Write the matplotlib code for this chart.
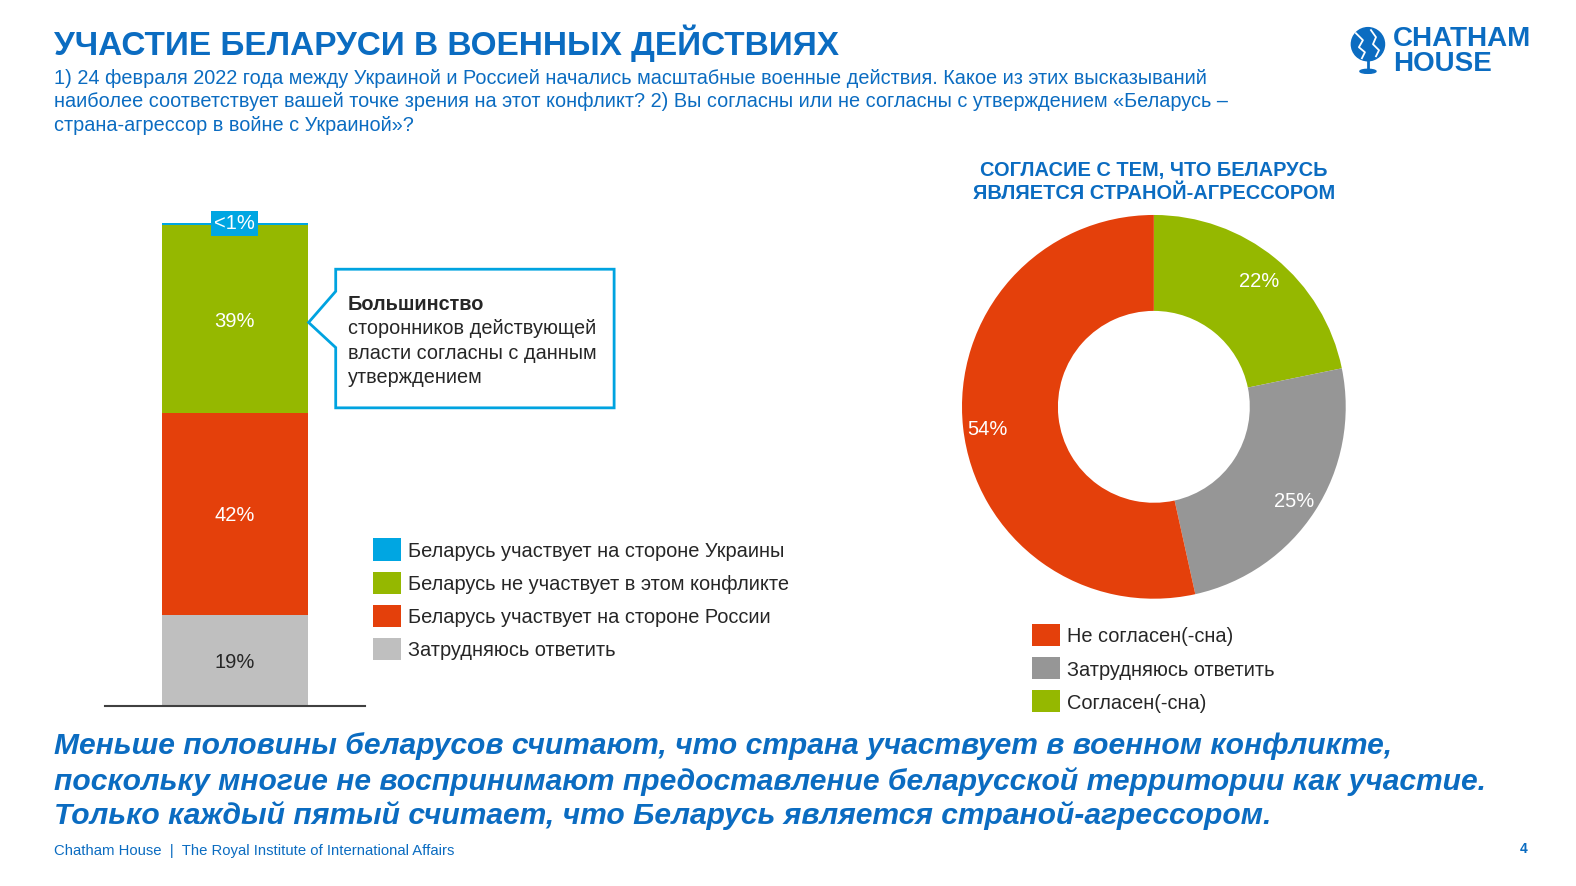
import matplotlib
matplotlib.use("Agg")
import matplotlib.pyplot as plt
import numpy as np
from matplotlib.patches import Polygon, Circle, Rectangle, Ellipse

# ---- data ----
bar_labels = ["Затрудняюсь ответить", "Беларусь участвует на стороне России",
              "Беларусь не участвует в этом конфликте", "Беларусь участвует на стороне Украины"]
bar_values = [19, 42, 39, 0.5]
bar_texts = ["19%", "42%", "39%", "<1%"]
bar_colors = ["#bfbfbf", "#e4400b", "#95b800", "#00a6e2"]

donut_labels = ["Согласен(-сна)", "Затрудняюсь ответить", "Не согласен(-сна)"]
donut_values = [22, 25, 54]
donut_colors = ["#95b800", "#969696", "#e4400b"]

BLUE = "#0b6cc1"
CYAN = "#00a3e0"
DARK = "#262626"
# layout coordinates below are in a 1568x882 pixel grid (top-left origin)
W, H = 1568, 882
SANS = ["Liberation Sans", "DejaVu Sans"]

fig = plt.figure(figsize=(15.76, 8.86), dpi=100)
fig.patch.set_facecolor("white")


def box(x0, y0, x1, y1):
    """pixel box (top-left origin) -> figure fraction rect"""
    return [x0 / W, 1 - y1 / H, (x1 - x0) / W, (y1 - y0) / H]


# ---- stacked bar ----
axb = fig.add_axes(box(104, 222, 363, 703))
bottom = 0
for v, c, t in zip(bar_values, bar_colors, bar_texts):
    axb.bar(0, v, bottom=bottom, width=0.56, color=c, linewidth=0)
    if t != "<1%":
        axb.text(0, bottom + v / 2, t, ha="center", va="center_baseline", fontsize=14.5,
                 family=SANS, color=DARK if c == "#bfbfbf" else "white")
    bottom += v
axb.text(0, bottom - 0.2, bar_texts[-1], ha="center", va="center", fontsize=14.5, family=SANS,
         color="white", bbox=dict(boxstyle="square,pad=0.15", fc=bar_colors[-1], ec="none"))
axb.set_xlim(-0.5, 0.5)
axb.set_ylim(0, bottom)
axb.set_xticks([]); axb.set_yticks([])
for s in ("top", "right", "left"):
    axb.spines[s].set_visible(False)
axb.spines["bottom"].set_color("#404040")
axb.spines["bottom"].set_linewidth(1.5)

# ---- donut ----
cx, cy, r = 1148, 405, 191
axd = fig.add_axes(box(cx - r, cy - r, cx + r, cy + r))
wedges, _ = axd.pie(donut_values, colors=donut_colors, startangle=90, counterclock=False,
                    wedgeprops=dict(width=0.5, linewidth=0))
for w, v in zip(wedges, donut_values):
    mid = np.deg2rad((w.theta1 + w.theta2) / 2)
    axd.text(0.87 * np.cos(mid), 0.87 * np.sin(mid) - 0.012, f"{v}%", ha="center",
             va="center_baseline", fontsize=14.5, family=SANS, color="white")
axd.set_xlim(-1, 1); axd.set_ylim(-1, 1)
axd.set_aspect("equal")
axd.axis("off")

# ---- overlay in pixel coordinates ----
ov = fig.add_axes([0, 0, 1, 1], zorder=5)
ov.set_xlim(0, W); ov.set_ylim(H, 0)
ov.axis("off")
ov.patch.set_alpha(0)

# title + question
ov.text(54, 43, "УЧАСТИЕ БЕЛАРУСИ В ВОЕННЫХ ДЕЙСТВИЯХ", fontsize=24, fontweight="bold",
        family=SANS, color=BLUE, va="center", ha="left")
sub = ["1) 24 февраля 2022 года между Украиной и Россией начались масштабные военные действия. Какое из этих высказываний",
       "наиболее соответствует вашей точке зрения на этот конфликт? 2) Вы согласны или не согласны с утверждением «Беларусь –",
       "страна-агрессор в войне с Украиной»?"]
for i, line in enumerate(sub):
    ov.text(54, 78 + i * 23.5, line, fontsize=14.3, family=SANS, color=BLUE, va="center", ha="left")

# logo
ov.add_patch(Circle((1361, 44), 16.5, color=BLUE))
ov.plot([1349, 1356, 1352, 1358, 1355], [33, 40, 47, 52, 58], color="white", lw=1.3)
ov.plot([1364, 1369, 1366, 1372, 1369], [30, 37, 44, 50, 56], color="white", lw=1.3)
ov.plot([1361, 1361], [61, 69], color=BLUE, lw=2)
ov.add_patch(Ellipse((1361, 71), 16, 4, color=BLUE))
ov.text(1386, 39, "CHATHAM", fontsize=20, fontweight="bold", family=SANS, color=BLUE, va="center")
ov.text(1386, 64, "HOUSE", fontsize=20, fontweight="bold", family=SANS, color=BLUE, va="center")

# callout
pts = [(334, 268), (611, 268), (611, 406), (334, 406), (334, 346), (307, 321), (334, 290)]
ov.add_patch(Polygon(pts, closed=True, fc="white", ec=CYAN, lw=2))
ov.text(346, 303, "Большинство", fontsize=14.3, fontweight="bold", family=SANS, color=DARK, va="center")
for i, line in enumerate(["сторонников действующей", "власти согласны с данным", "утверждением"]):
    ov.text(346, 327 + i * 24.5, line, fontsize=14.3, family=SANS, color=DARK, va="center")

# bar legend
for i, (lab, c) in enumerate(zip(bar_labels[::-1], bar_colors[::-1])):
    y = 547 + i * 33
    ov.add_patch(Rectangle((371, y - 11), 28, 22, color=c, lw=0))
    ov.text(406, y + 2, lab, fontsize=14.4, family=SANS, color=DARK, va="center")

# donut title + legend
for i, line in enumerate(["СОГЛАСИЕ С ТЕМ, ЧТО БЕЛАРУСЬ", "ЯВЛЯЕТСЯ СТРАНОЙ-АГРЕССОРОМ"]):
    ov.text(1148, 170 + i * 23, line, fontsize=14.4, fontweight="bold", family=SANS,
            color=BLUE, ha="center", va="center")
for i, (lab, c) in enumerate(zip(donut_labels[::-1], donut_colors[::-1])):
    y = 632 + i * 33
    ov.add_patch(Rectangle((1027, y - 11), 28, 22, color=c, lw=0))
    ov.text(1062, y + 2, lab, fontsize=14.4, family=SANS, color=DARK, va="center")

# conclusion
concl = ["Меньше половины беларусов считают, что страна участвует в военном конфликте,",
         "поскольку многие не воспринимают предоставление беларусской территории как участие.",
         "Только каждый пятый считает, что Беларусь является страной-агрессором."]
for i, line in enumerate(concl):
    ov.text(54, 743 + i * 34.5, line, fontsize=21.6, fontweight="bold", style="italic",
            family=SANS, color=BLUE, va="center")

# footer
ov.text(54, 847, "Chatham House  |  The Royal Institute of International Affairs", fontsize=10.7,
        family=SANS, color=BLUE, va="center")
ov.text(1520, 845, "4", fontsize=10, fontweight="bold", family=SANS, color=BLUE, va="center", ha="right")

fig.savefig("out.png", dpi=100, facecolor="white")
